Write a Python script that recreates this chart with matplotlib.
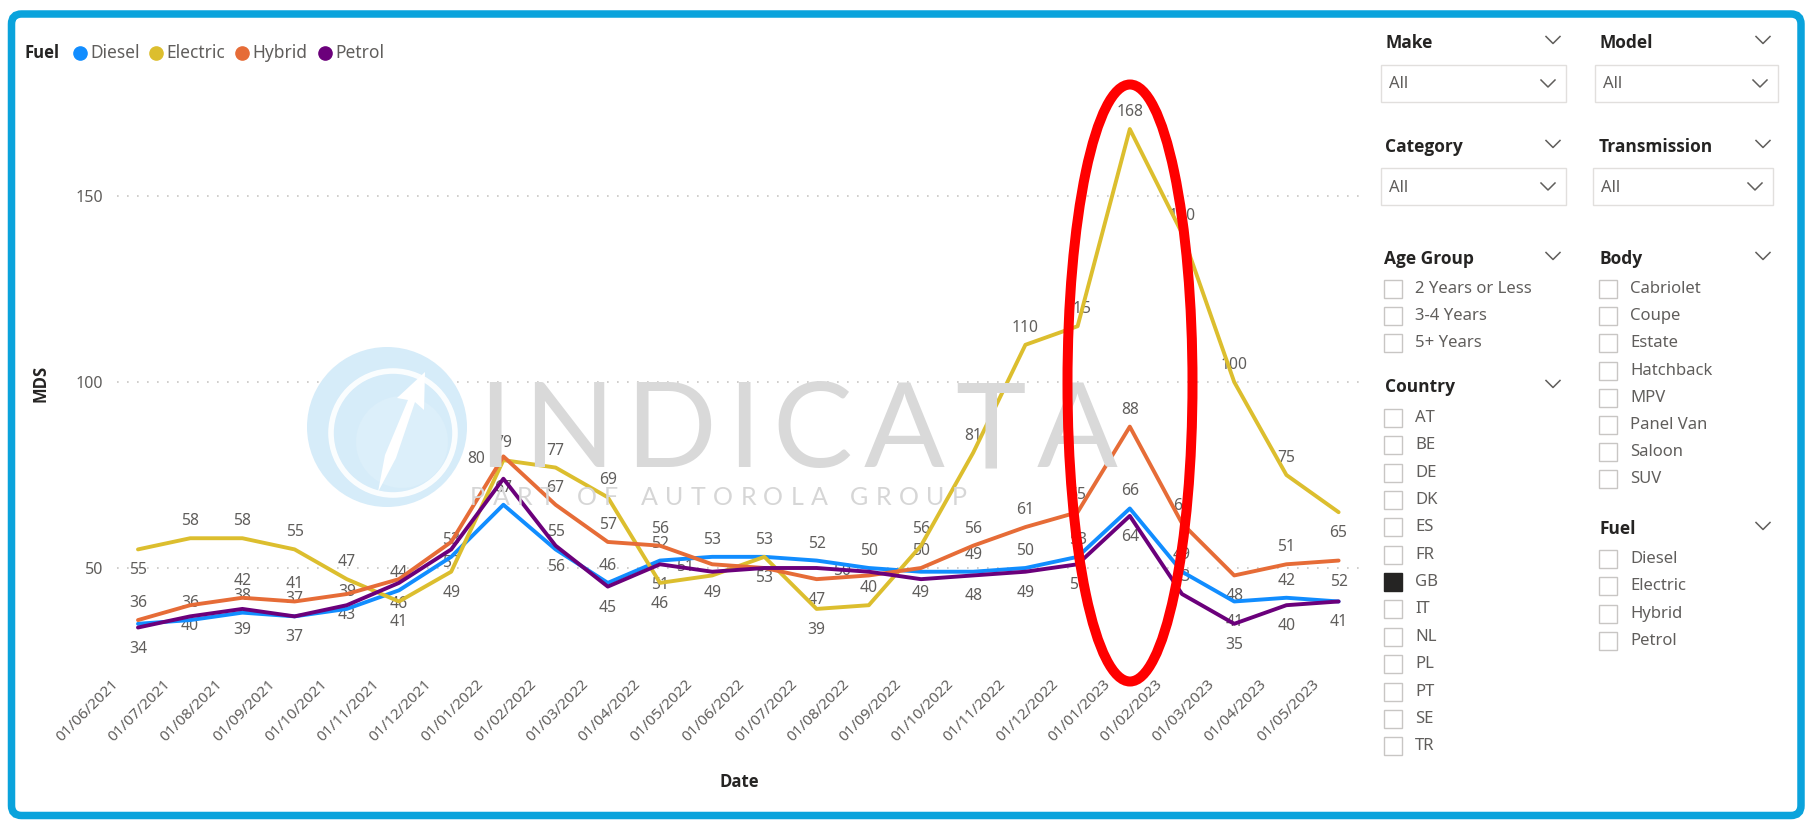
import matplotlib
matplotlib.use('Agg')
import matplotlib.pyplot as plt
import matplotlib.transforms as mtransforms
from matplotlib import font_manager as fm
from matplotlib.lines import Line2D
from matplotlib.patches import FancyBboxPatch, Rectangle, Ellipse, Circle, Polygon

# ---------------- data ----------------
dates = ["01/06/2021", "01/07/2021", "01/08/2021", "01/09/2021", "01/10/2021", "01/11/2021",
         "01/12/2021", "01/01/2022", "01/02/2022", "01/03/2022", "01/04/2022", "01/05/2022",
         "01/06/2022", "01/07/2022", "01/08/2022", "01/09/2022", "01/10/2022", "01/11/2022",
         "01/12/2022", "01/01/2023", "01/02/2023", "01/03/2023", "01/04/2023", "01/05/2023"]
fuels = ["Diesel", "Electric", "Hybrid", "Petrol"]
diesel = [35, 36, 38, 37, 39, 44, 53, 67, 55, 46, 52, 53, 53, 52, 50, 49, 49, 50, 53, 66, 49, 41, 42, 41]
electric = [55, 58, 58, 55, 47, 41, 49, 79, 77, 69, 46, 48, 53, 39, 40, 56, 81, 110, 115, 168, 140, 100, 75, 65]
hybrid = [36, 40, 42, 41, 43, 47, 57, 80, 67, 57, 56, 51, 50, 47, 48, 50, 56, 61, 65, 88, 62, 48, 51, 52]
petrol = [34, 37, 39, 37, 40, 46, 55, 74, 56, 45, 51, 49, 50, 50, 49, 47, 48, 49, 51, 64, 43, 35, 40, 41]
y_ticks = [50, 100, 150]

# slicer panel contents
age_groups = ["2 Years or Less", "3-4 Years", "5+ Years"]
bodies = ["Cabriolet", "Coupe", "Estate", "Hatchback", "MPV", "Panel Van", "Saloon", "SUV"]
countries = ["AT", "BE", "DE", "DK", "ES", "FR", "GB", "IT", "NL", "PL", "PT", "SE", "TR"]
selected_countries = ["GB"]

# ---------------- style ----------------
colors = ["#118DFF", "#DCBE2E", "#E66C37", "#6B007B"]
# data-label placement per point: a=above, b=below, l=left, r=right, '-'=hidden
diesel_lbl = list("-aaaaaaaaaaaaaabaaaaaba-")
electric_lbl = list("baaaabbaaab-bbaaaaaaaaab")
hybrid_lbl = list("abaab-blaaal-b-aaaaaabab")
petrol_lbl = list("b-bb-b--bbbb-r--bbbbabbb")
offsets = {'a': (0, 17), 'b': (0, -21), 'l': (-27, -3), 'r': (25, -3)}

W, H = 1810, 822
TXT = "#605E5C"
DARK = "#252423"


def _w(f):
    w = f.weight
    return fm.weight_dict.get(w, 400) if isinstance(w, str) else int(w)


def pick_family(cands, test):
    for c in cands:
        for f in fm.fontManager.ttflist:
            if f.name == c and test(_w(f)):
                return c
    return None


FONT = "Noto Sans"
BOLD_FONT = pick_family(["Noto Sans", "Open Sans", "Lato", "Roboto", "Liberation Sans"],
                        lambda w: w >= 600) or "DejaVu Sans"
WM_FONT = pick_family(["Lato", "Roboto", "Open Sans"], lambda w: w == 400) or FONT
plt.rcParams['font.family'] = [FONT, 'DejaVu Sans']

fig = plt.figure(figsize=(W / 100, H / 100), dpi=100)
fig.patch.set_facecolor('white')
px = mtransforms.Affine2D().scale(1 / W, -1 / H).translate(0, 1) + fig.transFigure

# ---------------- chart axes ----------------
x_left, x_right, y_top, y_bot = 117.1, 1359.5, 103.0, 679.6
ax = fig.add_axes([x_left / W, 1 - y_bot / H, (x_right - x_left) / W, (y_bot - y_top) / H])
ax.set_xlim(-0.4, 23.4)
ax.set_ylim(20, 175)
ax.patch.set_alpha(0)
for s in ax.spines.values():
    s.set_visible(False)

ax.set_yticks(y_ticks)
ax.set_yticklabels([str(v) for v in y_ticks], fontsize=11.5, color=TXT)
ax.tick_params(axis='y', length=0, pad=10)
ax.yaxis.grid(True, color='#C8C6C4', linestyle=(0, (1, 5)), linewidth=1.2)
ax.set_axisbelow(True)

xs = list(range(len(dates)))
ax.set_xticks(xs)
ax.set_xticklabels(dates, rotation=45, ha='right', va='top', rotation_mode='anchor',
                   fontsize=11, color=TXT)
ax.tick_params(axis='x', length=0, pad=0)
shift = mtransforms.ScaledTranslation(-27 / 100, 3 / 100, fig.dpi_scale_trans)
for lbl in ax.get_xticklabels():
    lbl.set_transform(lbl.get_transform() + shift)

series = [diesel, electric, hybrid, petrol]
placements = [diesel_lbl, electric_lbl, hybrid_lbl, petrol_lbl]
for k, (vals, col, plc) in enumerate(zip(series, colors, placements)):
    ax.plot(xs, vals, color=col, lw=2.8, zorder=4 + k, solid_joinstyle='round',
            solid_capstyle='round')
    for i, (v, p) in enumerate(zip(vals, plc)):
        if p in offsets:
            ax.annotate(str(v), (i, v), xytext=offsets[p], textcoords='offset pixels',
                        ha='center', va='center', fontsize=11.3, color=TXT, zorder=3,
                        annotation_clip=False)

# axis titles
fig.text(739, 782, "Date", transform=px, ha='center', va='center', fontsize=12,
         fontweight='bold', family=[BOLD_FONT, 'DejaVu Sans'], color=DARK)
fig.text(40, 383, "MDS", transform=px, ha='center', va='center', rotation=90, fontsize=12,
         fontweight='bold', family=[BOLD_FONT, 'DejaVu Sans'], color=DARK)

# legend
fig.text(24, 53, "Fuel", transform=px, ha='left', va='center', fontsize=12, fontweight='bold',
         family=[BOLD_FONT, 'DejaVu Sans'], color=DARK)
leg_dot_x = [80, 156, 242, 325]
for name, col, dx in zip(fuels, colors, leg_dot_x):
    fig.add_artist(Line2D([dx], [53], transform=px, marker='o', markersize=9.5, color=col, lw=0))
    fig.text(dx + 10, 53, name, transform=px, ha='left', va='center', fontsize=12.5, color=TXT)

# ---------------- watermark ----------------
fig.add_artist(Circle((387, 427), 80, transform=px, fc='#D6ECF9', ec='none', zorder=0.5))
fig.add_artist(Circle((393, 433), 62, transform=px, fc='none', ec='#FFFFFF', lw=4, zorder=0.6,
                      alpha=0.9))
fig.add_artist(Circle((402, 442), 46, transform=px, fc='#DCEFFA', ec='none', zorder=0.61))
fig.add_artist(Polygon([(378, 492), (385, 455), (408, 400), (397, 398), (425, 372), (424, 410),
                        (415, 402), (396, 458)], closed=True, transform=px, fc='white',
                       ec='none', zorder=0.62))


def spaced_text(s, x0, x1, baseline, size, color, weight='normal', family=None):
    renderer = fig.canvas.get_renderer()
    arts, widths = [], []
    for ch in s:
        t = fig.text(0, baseline, ch, transform=px, fontsize=size, color=color,
                     fontweight=weight, ha='left', va='baseline', zorder=0.4,
                     family=[family or FONT, 'DejaVu Sans'])
        w = t.get_window_extent(renderer).width if ch != ' ' else size * 100 / 72 * 0.3
        arts.append(t)
        widths.append(w)
    gap = (x1 - x0 - sum(widths)) / max(len(s) - 1, 1)
    x = x0
    for t, w in zip(arts, widths):
        t.set_x(x)
        x += w + gap


spaced_text("INDICATA", 478, 1118, 467, 86, '#D9D9D9', 'normal', WM_FONT)
spaced_text("PART OF AUTOROLA GROUP", 470, 967, 505, 18, '#D6D6D6', 'normal', WM_FONT)

# ---------------- slicer panel ----------------
hdr_kw = dict(transform=px, fontsize=12.5, fontweight='bold', color=DARK, va='center', ha='left',
              family=[BOLD_FONT, 'DejaVu Sans'])
item_kw = dict(transform=px, fontsize=12, color=TXT, va='center', ha='left')


def chevron(x, y, w=14, h=7, lw=1.1, color=TXT):
    fig.add_artist(Line2D([x - w / 2, x, x + w / 2], [y - h / 2, y + h / 2, y - h / 2],
                          transform=px, color=color, lw=lw))


def header(text, x, y, chev_x):
    fig.text(x, y, text, **hdr_kw)
    chevron(chev_x, y - 3)


def dropdown(x0, y0, x1, y1):
    fig.add_artist(Rectangle((x0, y0), x1 - x0, y1 - y0, transform=px, fc='white',
                             ec='#E1DFDD', lw=1))
    fig.text(x0 + 8, (y0 + y1) / 2 + 1, "All", **item_kw)
    chevron(x1 - 18, (y0 + y1) / 2)


def checklist(items, x, y0, dy, checked=()):
    for i, it in enumerate(items):
        y = y0 + i * dy
        fig.add_artist(Rectangle((x, y - 9), 18, 18, transform=px,
                                 fc=DARK if it in checked else 'white',
                                 ec=DARK if it in checked else '#C8C6C4', lw=1))
        fig.text(x + 31, y, it, **item_kw)


header("Make", 1385, 43, 1553)
header("Model", 1599, 43, 1763)
dropdown(1381, 65, 1566, 102)
dropdown(1595, 65, 1778, 102)
header("Category", 1385, 147, 1553)
header("Transmission", 1599, 147, 1763)
dropdown(1381, 168, 1566, 205)
dropdown(1593, 168, 1773, 205)
header("Age Group", 1384, 259, 1553)
header("Body", 1599, 259, 1763)
checklist(age_groups, 1384, 289, 27.2)
checklist(bodies, 1599, 289, 27.2)
header("Country", 1385, 387, 1553)
checklist(countries, 1384, 418, 27.35, checked=selected_countries)
header("Fuel", 1599, 529, 1763)
checklist(fuels, 1599, 559, 27.3)

# ---------------- frame & highlight ----------------
fig.add_artist(FancyBboxPatch((11.5, 14), 1789.5, 801.5, boxstyle='round,pad=0,rounding_size=10',
                              transform=px, fc='none', ec='#0AA3DC', lw=5.4, zorder=10))
fig.add_artist(Ellipse((1130, 383), 125, 597, transform=px, fill=False, ec='#FF0000', lw=7.2,
                       zorder=11))

fig.savefig("out.png", dpi=100)
